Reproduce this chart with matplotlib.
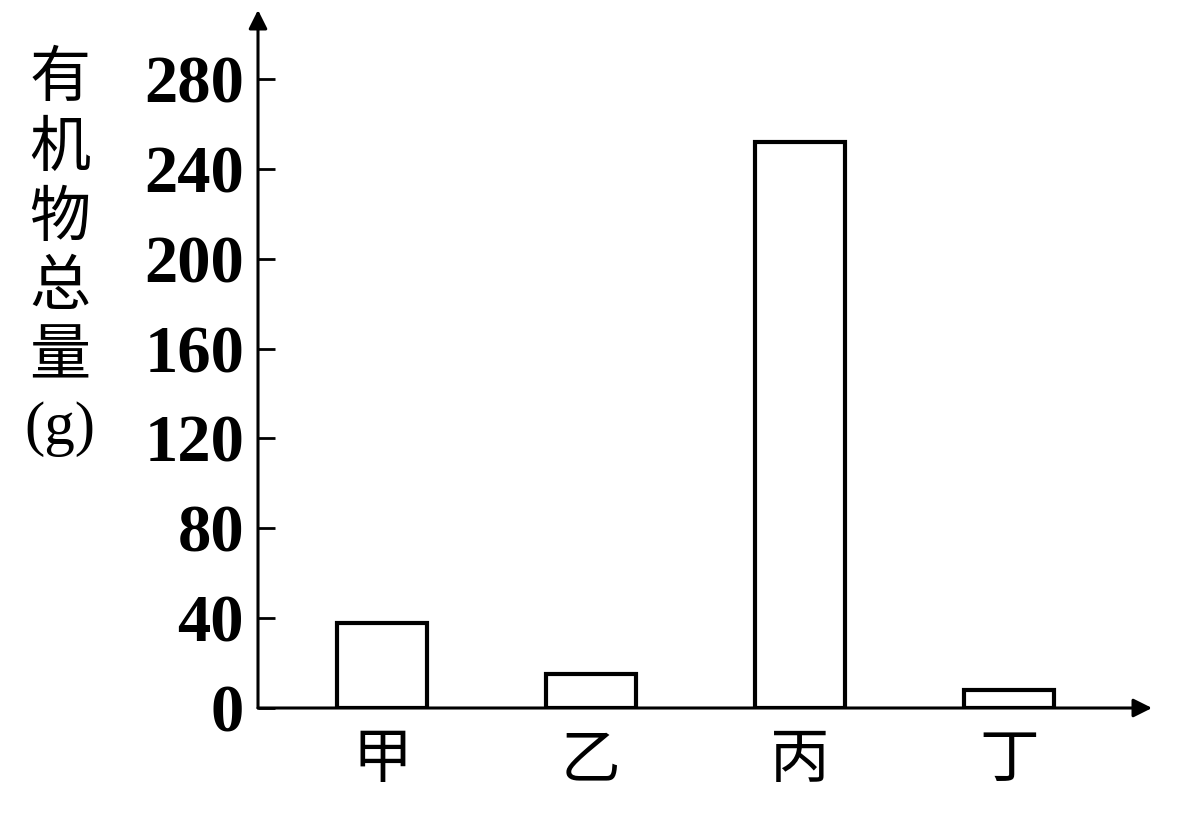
import numpy as np
import matplotlib.pyplot as plt

plt.rcParams['font.family'] = ['Noto Sans CJK SC', 'DejaVu Sans']

# 数据
groups = ['甲', '乙', '丙', '丁']
values = [38, 15, 252, 8]
yticks = [0, 40, 80, 120, 160, 200, 240, 280]

fig = plt.figure(figsize=(11.81, 8.15), dpi=100)
ax = fig.add_axes([258 / 1181, 107 / 815, (1152 - 258) / 1181, (708 - 10) / 815])

x = np.arange(len(groups))
ax.bar(x, values, width=0.43, facecolor='white', edgecolor='black', linewidth=3)

ax.set_xlim(-0.593, 3.684)
ax.set_ylim(0, 310.7)

for s in ax.spines.values():
    s.set_visible(False)

# 坐标轴箭头
ax.annotate('', xy=(0, 1), xytext=(0, 0), xycoords='axes fraction',
            arrowprops=dict(arrowstyle='-|>', color='black', lw=2.2,
                            mutation_scale=28, shrinkA=0, shrinkB=0))
ax.annotate('', xy=(1, 0), xytext=(0, 0), xycoords='axes fraction',
            arrowprops=dict(arrowstyle='-|>', color='black', lw=2.2,
                            mutation_scale=28, shrinkA=0, shrinkB=0))

ax.set_yticks(yticks)
ax.set_yticklabels([str(t) for t in yticks], family='Liberation Serif',
                   fontsize=48, fontweight='bold')
ax.tick_params(axis='y', direction='in', length=12, width=2, pad=10)

ax.set_xticks(x)
ax.set_xticklabels(groups, fontsize=43)
ax.tick_params(axis='x', length=0, pad=16)

fig.text(60 / 1181, 1 - 255 / 815, '有\n机\n物\n总\n量\n(g)', fontsize=44,
         ha='center', va='center', linespacing=1.32,
         family=['Liberation Serif', 'Noto Sans CJK SC'])

fig.savefig('out.png', dpi=100)
